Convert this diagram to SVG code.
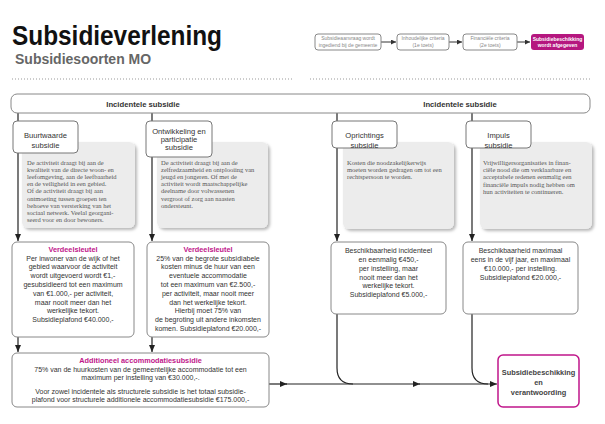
<svg xmlns="http://www.w3.org/2000/svg" width="605" height="424" viewBox="0 0 605 424">
<defs>
<style>
.sans{font-family:"Liberation Sans",Arial,sans-serif}
.serif{font-family:"Liberation Serif","Times New Roman",serif;font-size:6.5px;fill:#555}
.box{fill:#fff;stroke:#888;stroke-width:1}
.tbox{fill:#fff;stroke:#777;stroke-width:1}
.grey{fill:#ececec;filter:url(#sh)}
.ttl{font-family:"Liberation Sans",Arial,sans-serif;font-size:7.6px;fill:#333;text-anchor:middle}
.body{font-family:"Liberation Sans",Arial,sans-serif;font-size:7px;fill:#333;text-anchor:middle}
.mag{font-family:"Liberation Sans",Arial,sans-serif;font-size:7.3px;font-weight:bold;fill:#c0168a;text-anchor:middle}
.ptxt{font-family:"Liberation Sans",Arial,sans-serif;font-size:5px;fill:#888;text-anchor:middle}
.conn{fill:none;stroke:#222;stroke-width:1.2}
.pconn{fill:none;stroke:#333;stroke-width:1}
</style>
<filter id="sh" x="-10%" y="-10%" width="125%" height="125%">
<feDropShadow dx="2" dy="2" stdDeviation="1.8" flood-color="#000" flood-opacity="0.28"/>
</filter>
<marker id="ar" markerUnits="userSpaceOnUse" markerWidth="7" markerHeight="6" refX="7" refY="3" orient="auto">
<path d="M0,0 L7,3 L0,6 Z" fill="#222"/>
</marker>
<marker id="ars" markerUnits="userSpaceOnUse" markerWidth="5" markerHeight="5" refX="5" refY="2.5" orient="auto">
<path d="M0,0 L5,2.5 L0,5 Z" fill="#333"/>
</marker>
</defs>

<rect width="605" height="424" fill="#fff"/>

<g id="title">
<text class="sans" x="12" y="45" font-size="27" font-weight="bold" fill="#111" textLength="210" lengthAdjust="spacingAndGlyphs">Subsidieverlening</text>
<text class="sans" x="15" y="64" font-size="14" font-weight="bold" fill="#666">Subsidiesoorten MO</text>
<line x1="12" y1="79" x2="292" y2="79" stroke="#999" stroke-width="1" stroke-dasharray="1 2"/>
<line x1="310" y1="79" x2="590" y2="79" stroke="#999" stroke-width="1" stroke-dasharray="1 2"/>
</g>

<g id="process-connectors">
<path class="pconn" d="M381,42 H396" marker-end="url(#ars)"/>
<path class="pconn" d="M449,42 H462" marker-end="url(#ars)"/>
<path class="pconn" d="M517,42 H530" marker-end="url(#ars)"/>
</g>
<g id="p1"><rect x="315" y="34" width="66" height="16" rx="3" class="box"/>
<text class="ptxt" x="348" y="40">Subsidieaanvraag wordt</text><text class="ptxt" x="348" y="46.5">ingediend bij de gemeente</text></g>
<g id="p2"><rect x="397" y="34" width="52" height="16" rx="3" class="box"/>
<text class="ptxt" x="423" y="40">Inhoudelijke criteria</text><text class="ptxt" x="423" y="46.5">(1e toets)</text></g>
<g id="p3"><rect x="463" y="34" width="54" height="16" rx="3" class="box"/>
<text class="ptxt" x="490" y="40">Financiële criteria</text><text class="ptxt" x="490" y="46.5">(2e toets)</text></g>
<g id="p4"><rect x="531" y="34" width="53" height="16" rx="3" fill="#b5177f"/>
<text class="ptxt" x="557.5" y="40.5" fill="#fff" font-weight="bold" style="fill:#fff">Subsidiebeschikking</text><text class="ptxt" x="557.5" y="47" font-weight="bold" style="fill:#fff">wordt afgegeven</text></g>

<g id="connectors">
<path class="conn" d="M18,113 V241" marker-end="url(#ar)"/>
<path class="conn" d="M152,113 V241" marker-end="url(#ar)"/>
<path class="conn" d="M337,113 V241" marker-end="url(#ar)"/>
<path class="conn" d="M472,113 V241" marker-end="url(#ar)"/>
<path class="conn" d="M18,337 V352" marker-end="url(#ar)"/>
<path class="conn" d="M152,337 V352" marker-end="url(#ar)"/>
<path class="conn" d="M269,384 H287" marker-end="url(#ar)"/>
<path class="conn" d="M286,384 H420" marker-end="url(#ar)"/>
<path class="conn" d="M419,384 H497" marker-end="url(#ar)"/>
<path class="conn" d="M337,314 V368 Q337,384 353,384"/>
<path class="conn" d="M472,314 V368 Q472,384 488,384"/>
</g>

<g id="incidentele">
<rect x="11" y="94" width="579" height="19" rx="6" class="box"/>
<text class="sans" x="143" y="106.5" font-size="7.7" font-weight="bold" fill="#333" text-anchor="middle">Incidentele subsidie</text>
<text class="sans" x="460" y="106.5" font-size="7.7" font-weight="bold" fill="#333" text-anchor="middle">Incidentele subsidie</text>
</g>

<g id="buurtwaarde">
<rect x="22" y="142" width="113" height="86" rx="6" class="grey"/>
<text class="serif" x="27" y="164.5">De activiteit draagt bij aan de</text>
<text class="serif" x="27" y="171.7">kwaliteit van de directe woon- en</text>
<text class="serif" x="27" y="178.9">leefomgeving, aan de leefbaarheid</text>
<text class="serif" x="27" y="186.1">en de veiligheid in een gebied.</text>
<text class="serif" x="27" y="193.3">Of de activiteit draagt bij aan</text>
<text class="serif" x="27" y="200.5">ontmoeting tussen groepen ten</text>
<text class="serif" x="27" y="207.7">behoeve van versterking van het</text>
<text class="serif" x="27" y="214.9">sociaal netwerk. Veelal georgani-</text>
<text class="serif" x="27" y="222.1">seerd voor en door bewoners.</text>
<rect x="13" y="121" width="65" height="32" rx="4" class="tbox"/>
<text class="ttl" x="45.5" y="137.7">Buurtwaarde</text>
<text class="ttl" x="45.5" y="147.7">subsidie</text>
</g>

<g id="ontwikkeling">
<rect x="157" y="142" width="111" height="86" rx="6" class="grey"/>
<text class="serif" x="161" y="164.5">De activiteit draagt bij aan de</text>
<text class="serif" x="161" y="171.7">zelfredzaamheid en ontplooiing van</text>
<text class="serif" x="161" y="178.9">jeugd en jongeren. Of met de</text>
<text class="serif" x="161" y="186.1">activiteit wordt maatschappelijke</text>
<text class="serif" x="161" y="193.3">deelname door volwassenen</text>
<text class="serif" x="161" y="200.5">vergroot of zorg aan naasten</text>
<text class="serif" x="161" y="207.7">ondersteunt.</text>
<rect x="146" y="121" width="66" height="36" rx="4" class="tbox"/>
<text class="ttl" x="179" y="133.7">Ontwikkeling en</text>
<text class="ttl" x="179" y="142">participatie</text>
<text class="ttl" x="179" y="150.4">subsidie</text>
</g>

<g id="oprichtings">
<rect x="343" y="142" width="111" height="87" rx="6" class="grey"/>
<text class="serif" x="347" y="165">Kosten die noodzakelijkerwijs</text>
<text class="serif" x="347" y="172.2">moeten worden gedragen om tot een</text>
<text class="serif" x="347" y="179.4">rechtspersoon te worden.</text>
<rect x="332" y="121" width="65" height="27" rx="4" class="tbox"/>
<text class="ttl" x="364.5" y="137.7">Oprichtings</text>
<text class="ttl" x="364.5" y="148">subsidie</text>
</g>

<g id="impuls">
<rect x="480" y="142" width="112" height="87" rx="6" class="grey"/>
<text class="serif" x="483" y="165">Vrijwilligersorganisaties in finan-</text>
<text class="serif" x="483" y="172.2">ciële nood die om verklaarbare en</text>
<text class="serif" x="483" y="179.4">acceptabele redenen eenmalig een</text>
<text class="serif" x="483" y="186.6">financiële impuls nodig hebben om</text>
<text class="serif" x="483" y="193.8">hun activiteiten te continueren.</text>
<rect x="466" y="121" width="65" height="27" rx="4" class="tbox"/>
<text class="ttl" x="498.5" y="137.7">Impuls</text>
<text class="ttl" x="498.5" y="148">subsidie</text>
</g>

<g id="verdeel1">
<rect x="12" y="242" width="122" height="95" rx="5" class="box"/>
<text class="mag" x="73" y="251.5">Verdeelsleutel</text>
<text class="body" x="73" y="260.5">Per inwoner van de wijk of het</text>
<text class="body" x="73" y="269.3">gebied waarvoor de activiteit</text>
<text class="body" x="73" y="278.1">wordt uitgevoerd wordt €1,-</text>
<text class="body" x="73" y="286.9">gesubsidieerd tot een maximum</text>
<text class="body" x="73" y="295.7">van €1.000,- per activiteit,</text>
<text class="body" x="73" y="304.5">maar nooit meer dan het</text>
<text class="body" x="73" y="313.3">werkelijke tekort.</text>
<text class="body" x="73" y="322.1">Subsidieplafond €40.000,-</text>
</g>

<g id="verdeel2">
<rect x="147" y="242" width="122" height="95" rx="5" class="box"/>
<text class="mag" x="208" y="251.5">Verdeelsleutel</text>
<text class="body" x="208" y="260.5">25% van de begrote subsidiabele</text>
<text class="body" x="208" y="269.3">kosten minus de huur van een</text>
<text class="body" x="208" y="278.1">eventuele accommodatie</text>
<text class="body" x="208" y="286.9">tot een maximum van €2.500,-</text>
<text class="body" x="208" y="295.7">per activiteit, maar nooit meer</text>
<text class="body" x="208" y="304.5">dan het werkelijke tekort.</text>
<text class="body" x="208" y="313.3">Hierbij moet 75% van</text>
<text class="body" x="208" y="322.1">de begroting uit andere inkomsten</text>
<text class="body" x="208" y="330.9">komen. Subsidieplafond €20.000,-</text>
</g>

<g id="beschik-opr">
<rect x="331" y="242" width="115" height="72" rx="5" class="box"/>
<text class="body" x="388.5" y="253.2">Beschikbaarheid incidenteel</text>
<text class="body" x="388.5" y="262">en eenmalig €450,-</text>
<text class="body" x="388.5" y="270.8">per instelling, maar</text>
<text class="body" x="388.5" y="279.6">nooit meer dan het</text>
<text class="body" x="388.5" y="288.4">werkelijke tekort.</text>
<text class="body" x="388.5" y="297.2">Subsidieplafond €5.000,-</text>
</g>

<g id="beschik-imp">
<rect x="463" y="242" width="115" height="72" rx="5" class="box"/>
<text class="body" x="520.5" y="253.2">Beschikbaarheid maximaal</text>
<text class="body" x="520.5" y="262">eens in de vijf jaar, en maximaal</text>
<text class="body" x="520.5" y="270.8">€10.000,- per instelling.</text>
<text class="body" x="520.5" y="279.6">Subsidieplafond €20.000,-</text>
</g>

<g id="additioneel">
<rect x="12" y="353" width="257" height="54" rx="5" class="box"/>
<text class="mag" x="140.5" y="362.5">Additioneel accommodatiesubsidie</text>
<text class="body" x="140.5" y="371.5">75% van de huurkosten van de gemeentelijke accommodatie tot een</text>
<text class="body" x="140.5" y="380.2">maximum per instelling van €30.000,-.</text>
<text class="body" x="140.5" y="393.5">Voor zowel incidentele als structurele subsidie is het totaal subsidie-</text>
<text class="body" x="140.5" y="402.3">plafond voor structurele additionele accommodatiesubsidie €175.000,-</text>
</g>

<g id="eind">
<rect x="498" y="355" width="81" height="52" rx="5" fill="#fff" stroke="#c0168a" stroke-width="1.5"/>
<text class="sans" x="538.5" y="374.8" font-size="7.4" font-weight="bold" fill="#444" text-anchor="middle">Subsidiebeschikking</text>
<text class="sans" x="538.5" y="384.8" font-size="7.4" font-weight="bold" fill="#444" text-anchor="middle">en</text>
<text class="sans" x="538.5" y="394.5" font-size="7.4" font-weight="bold" fill="#444" text-anchor="middle">verantwoording</text>
</g>
</svg>
